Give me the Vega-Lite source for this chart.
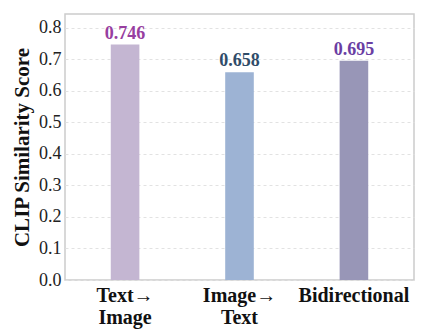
{
  "$schema": "https://vega.github.io/schema/vega-lite/v6.json",
  "width": 349,
  "height": 266,
  "autosize": {"type": "none"},
  "padding": {"left": 65, "top": 14, "right": 23, "bottom": 52},
  "background": "white",
  "config": {
    "view": {"stroke": "#cccccc", "strokeWidth": 1.5},
    "font": "Liberation Serif"
  },
  "data": {
    "values": [
      {"method": "Text→ Image", "score": 0.746, "bar": "#c4b6d2", "lab": "#973ea0"},
      {"method": "Image→ Text", "score": 0.658, "bar": "#9db3d4", "lab": "#2f4c69"},
      {"method": "Bidirectional", "score": 0.695, "bar": "#9896b7", "lab": "#6a3ea3"}
    ]
  },
  "encoding": {
    "x": {
      "field": "method",
      "type": "nominal",
      "sort": null,
      "scale": {"paddingInner": 0.75, "paddingOuter": 0.4},
      "axis": {
        "title": null,
        "labelAngle": 0,
        "labelExpr": "split(datum.label, ' ')",
        "labelFont": "Liberation Serif",
        "labelFontWeight": "bold",
        "labelFontSize": 20,
        "labelColor": "#111111",
        "labelLineHeight": 22,
        "labelPadding": 5,
        "ticks": false,
        "domain": false
      }
    },
    "y": {
      "field": "score",
      "type": "quantitative",
      "scale": {"domain": [0, 0.843], "nice": false},
      "axis": {
        "title": "CLIP Similarity Score",
        "titleFont": "Liberation Serif",
        "titleFontWeight": "bold",
        "titleFontSize": 21,
        "titleColor": "#111111",
        "titlePadding": 6,
        "values": [0, 0.1, 0.2, 0.3, 0.4, 0.5, 0.6, 0.7, 0.8],
        "format": ".1f",
        "labelFont": "Liberation Serif",
        "labelFontSize": 18,
        "labelColor": "#222222",
        "labelPadding": 4,
        "ticks": false,
        "domain": false,
        "grid": true,
        "gridColor": "#e2e2e2",
        "gridDash": [3, 3],
        "gridWidth": 1
      }
    }
  },
  "layer": [
    {
      "mark": {"type": "bar"},
      "encoding": {
        "color": {"field": "bar", "type": "nominal", "scale": null}
      }
    },
    {
      "mark": {"type": "text", "baseline": "bottom", "dy": -2, "fontWeight": "bold", "fontSize": 18, "font": "Liberation Serif"},
      "encoding": {
        "text": {"field": "score", "type": "quantitative", "format": ".3f"},
        "color": {"field": "lab", "type": "nominal", "scale": null}
      }
    }
  ]
}
